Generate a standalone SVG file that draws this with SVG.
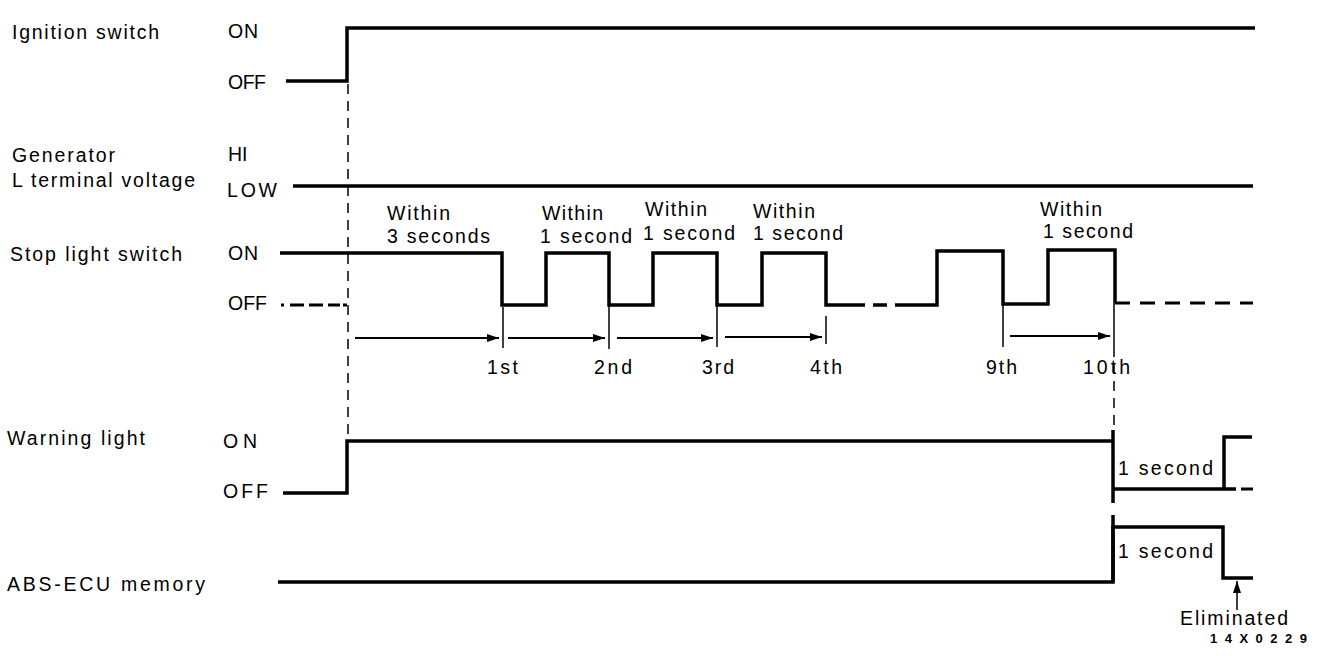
<svg xmlns="http://www.w3.org/2000/svg" width="1328" height="656" viewBox="0 0 1328 656">
<style>
text{font-family:"Liberation Sans",Arial,Helvetica,sans-serif;font-size:19.5px;fill:#000}
.sig{fill:none;stroke:#000;stroke-width:3.5;stroke-linejoin:miter;stroke-linecap:butt}
.dash{fill:none;stroke:#000;stroke-width:3}
.guide{fill:none;stroke:#000;stroke-width:1.5;stroke-dasharray:10 7}
.tick{fill:none;stroke:#000;stroke-width:1.5}
.iv{fill:none;stroke:#000;stroke-width:2}
.code{font-size:13px;font-weight:bold}
</style>
<defs>
<marker id="ah" markerUnits="userSpaceOnUse" markerWidth="12" markerHeight="8" refX="12" refY="4" orient="auto">
<path d="M0,0 L12,4 L0,8 z" fill="#000"/>
</marker>
</defs>
<rect width="1328" height="656" fill="#fff"/>

<g id="ignition-switch">
<text x="12" y="39" textLength="147" lengthAdjust="spacing">Ignition switch</text>
<text x="228" y="38" textLength="30" lengthAdjust="spacing">ON</text>
<text x="228" y="89" textLength="38" lengthAdjust="spacing">OFF</text>
<path class="sig" d="M286,81 H347 V28 H1255"/>
</g>

<g id="generator">
<text x="12" y="162" textLength="103" lengthAdjust="spacing">Generator</text>
<text x="12" y="187" textLength="183" lengthAdjust="spacing">L terminal voltage</text>
<text x="228" y="161">HI</text>
<text x="227" y="197" textLength="50" lengthAdjust="spacing">LOW</text>
<path class="sig" d="M293,186 H1253"/>
</g>

<g id="stop-light-switch">
<text x="10" y="261" textLength="172" lengthAdjust="spacing">Stop light switch</text>
<text x="228" y="260" textLength="30" lengthAdjust="spacing">ON</text>
<text x="228" y="310" textLength="39" lengthAdjust="spacing">OFF</text>
<path class="dash" d="M281,305 H347" stroke-dasharray="3 6 14 5 14 5 12"/>
<path class="sig" d="M280,253 H502 V305 H546 V253 H609 V305 H653 V253 H717 V305 H762 V253 H826 V305 H865"/>
<path class="sig" d="M873,305 H887"/>
<path class="sig" d="M895,305 H937 V251 H1003 V304 H1048 V250 H1115 V303"/>
<path class="dash" d="M1115,303 H1253" stroke-dasharray="15 10"/>
<text x="387" y="220" textLength="63" lengthAdjust="spacing">Within</text>
<text x="387" y="243" textLength="103" lengthAdjust="spacing">3 seconds</text>
<text x="542" y="220" textLength="61" lengthAdjust="spacing">Within</text>
<text x="540" y="243" textLength="92" lengthAdjust="spacing">1 second</text>
<text x="645" y="216" textLength="62" lengthAdjust="spacing">Within</text>
<text x="643" y="240" textLength="92" lengthAdjust="spacing">1 second</text>
<text x="753" y="218" textLength="62" lengthAdjust="spacing">Within</text>
<text x="753" y="240" textLength="90" lengthAdjust="spacing">1 second</text>
<text x="1040" y="216" textLength="62" lengthAdjust="spacing">Within</text>
<text x="1043" y="238" textLength="90" lengthAdjust="spacing">1 second</text>
<text x="487" y="374" textLength="31" lengthAdjust="spacing">1st</text>
<text x="594" y="374" textLength="38" lengthAdjust="spacing">2nd</text>
<text x="702" y="374" textLength="32" lengthAdjust="spacing">3rd</text>
<text x="810" y="374" textLength="32" lengthAdjust="spacing">4th</text>
<text x="986" y="374" textLength="31" lengthAdjust="spacing">9th</text>
<text x="1083" y="374" textLength="47" lengthAdjust="spacing">10th</text>
</g>

<g id="warning-light">
<text x="7" y="445" textLength="138" lengthAdjust="spacing">Warning light</text>
<text x="223" y="448" textLength="34" lengthAdjust="spacing">ON</text>
<text x="223" y="498" textLength="45" lengthAdjust="spacing">OFF</text>
<path class="sig" d="M283,493 H347 V441 H1113"/>
<path class="sig" d="M1113,430 V503"/>
<path class="sig" d="M1113,489 H1236"/>
<path class="sig" d="M1224,489 V437 H1252"/>
<path class="dash" d="M1241,489 H1253" stroke-width="2"/>
<text x="1118" y="475" textLength="95" lengthAdjust="spacing">1 second</text>
</g>

<g id="abs-ecu-memory">
<text x="7" y="591" textLength="198" lengthAdjust="spacing">ABS-ECU memory</text>
<path class="sig" d="M278,582 H1113 V527 H1223 V578 H1253"/>
<path class="sig" d="M1113,515 V582"/>
<text x="1118" y="558" textLength="95" lengthAdjust="spacing">1 second</text>
<text x="1180" y="625" textLength="108" lengthAdjust="spacing">Eliminated</text>
<text class="code" x="1210" y="643" textLength="97" lengthAdjust="spacing">14X0229</text>
</g>

<g id="connectors">
<path class="guide" d="M348,84 V440"/>
<path class="guide" d="M1114,347 V430"/>
<path class="tick" d="M503,307 V348"/>
<path class="tick" d="M609,305 V349"/>
<path class="tick" d="M717,305 V347"/>
<path class="tick" d="M826,316 V344"/>
<path class="tick" d="M1003,305 V347"/>
<path class="tick" d="M1114,303 V347"/>
<path class="iv" stroke-width="1.3" d="M355,338 H499" marker-end="url(#ah)"/>
<path class="iv" d="M508,338 H605" marker-end="url(#ah)"/>
<path class="iv" stroke-width="2.5" d="M617,338 H713" marker-end="url(#ah)"/>
<path class="iv" d="M725,337 H822" marker-end="url(#ah)"/>
<path class="iv" d="M1010,336 H1110" marker-end="url(#ah)"/>
<path class="tick" stroke-width="2" d="M1237,610 V581" marker-end="url(#ah)"/>
</g>
</svg>
